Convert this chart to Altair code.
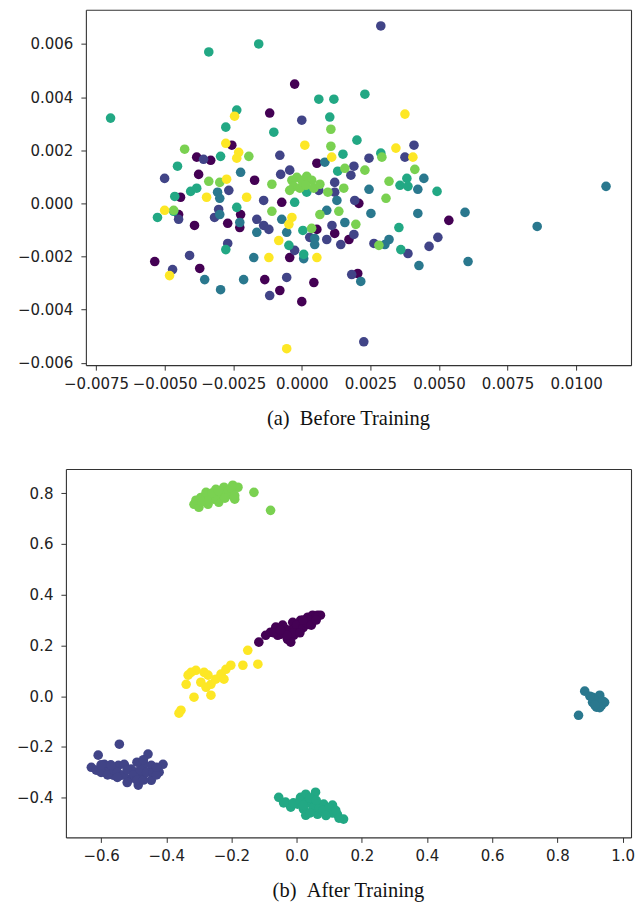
import altair as alt
import pandas as pd

VIRIDIS6 = ["#440154", "#414487", "#2a788e", "#22a884", "#7ad151", "#fde725"]
CLASSES = ["c0", "c1", "c2", "c3", "c4", "c5"]

# ---------------- (a) Before Training ----------------
before_x_c0 = [-0.00026, -0.00117, -0.00255, -0.00383, -0.00332, -0.00376, -0.00172, 0.00055, -0.00442, -0.00449,
               -0.00391, -0.0027, -0.00223, -0.00226, -0.00073, 0.00208, 0.0012, 0.00172, 0.00055, -0.00044,
               -0.00536, -0.00372, -0.00135, -0.0008, 0.0, 0.00044, 0.00204, 0.00536]
before_y_c0 = [0.00449, 0.0034, 0.00219, 0.00174, 0.00162, 0.00109, 0.00087, 0.00151, 0.00023, -0.00042,
               -0.00083, -0.00075, -0.00042, -0.00091, 0.00004, 0.0, -0.00113, -0.00136, -0.00098, -0.00204,
               -0.00219, -0.00245, -0.00287, -0.00328, -0.0037, -0.00298, -0.00264, -0.00064]

before_x_c1 = [0.00288, 0.0, -0.0008, -0.00358, -0.005, -0.00044, -0.00266, -0.00303, -0.00318, -0.00449,
               -0.00164, -0.00139, -0.00139, -0.0012, -0.00026, 0.00029, 0.00091, 0.00062, 0.0012, 0.0012,
               0.0019, 0.00179, 0.00245, 0.00376, 0.00409, 0.0011, 0.0019, 0.00142, 0.00263, 0.00387,
               0.00464, 0.00496, 0.00182, 0.00226, -0.00471, -0.00409, -0.0027, -0.00117, -0.00055, 0.00193,
               -0.00077]
before_y_c1 = [0.00668, 0.00313, 0.00181, 0.00166, 0.00094, 0.00125, 0.00049, -0.00023, -0.00053, -0.0006,
               -0.0006, 0.00011, -0.00083, -0.00098, -0.00177, -0.00128, -0.00136, 0.00049, 0.00079, 0.00042,
               0.0014, 0.00106, 0.0017, 0.00174, 0.00219, -0.00083, -0.00117, -0.00155, -0.00151, -0.00189,
               -0.00162, -0.00128, -0.00268, -0.00521, -0.00249, -0.00196, -0.00151, -0.00347, -0.00279, 0.00011,
               0.00109]

before_x_c2 = [0.01109, 0.00858, 0.00606, 0.00595, 0.00423, 0.00252, 0.00245, 0.00445, 0.00423, 0.00157,
               0.00091, 0.00084, 0.00128, 0.00047, 0.00047, 0.00007, 0.00215, 0.00427, 0.00318, 0.00303,
               -0.00307, -0.00299, -0.00299, -0.00226, -0.00164, -0.00055, -0.00073, -0.00223, -0.00175, -0.00212,
               -0.00296, -0.00354]
before_y_c2 = [0.00064, -0.00087, -0.00219, -0.00034, -0.00038, -0.00038, 0.00053, 0.00094, 0.00053, -0.00072,
               -0.00026, 0.00155, 0.00011, -0.00155, -0.00132, -0.00208, -0.00294, -0.00234, -0.00136, -0.00155,
               0.00042, 0.00019, -0.00042, -0.00072, -0.00109, -0.00109, -0.0006, 0.00117, -0.00204, -0.00287,
               -0.00325, -0.00287]

before_x_c3 = [-0.00697, -0.00339, -0.00157, 0.00062, 0.00117, 0.0023, -0.00237, -0.00277, -0.00102, 0.00102,
               0.00201, 0.0015, 0.00288, 0.00131, 0.00383, 0.00358, 0.00387, 0.00493, -0.00296, -0.00453,
               -0.00405, -0.00383, -0.00463, -0.00526, -0.00467, -0.00237, -0.00277, -0.00047, 0.00007, 0.00004,
               -0.00026, 0.00354, 0.00361, 0.00018]
before_y_c3 = [0.00321, 0.0057, 0.006, 0.00392, 0.00392, 0.00411, 0.00351, 0.00287, 0.00268, 0.00325,
               0.00238, 0.00185, 0.00189, 0.00121, 0.00094, 0.00068, 0.00064, 0.00045, 0.00177, 0.0014,
               0.00045, 0.00057, 0.00026, -0.00053, -0.0003, -0.00015, -0.00174, -0.00158, -0.00192, -0.00102,
               0.00004, -0.00091, -0.00174, 0.00042]

before_x_c4 = [0.00106, 0.00106, 0.00412, 0.00292, 0.0023, 0.00157, 0.00318, 0.00307, -0.00427, -0.00193,
               -0.00339, -0.00299, -0.00109, -0.00467, -0.00109, 0.00036, 0.00066, 0.00135, 0.00153, 0.00197,
               0.00281, -0.00036, -0.00018, 0.0, 0.00018, 0.00036, -0.00029, -0.00007, 0.00015, 0.00044,
               -0.00044, 0.00066, 0.00095]
before_y_c4 = [0.00279, 0.00215, 0.00128, 0.00174, 0.00125, 0.00132, 0.00083, 0.00019, 0.00204, 0.00177,
               0.00083, 0.00079, 0.00072, -0.00026, -0.0003, -0.00094, -0.00042, -0.0003, 0.00057, -0.00079,
               -0.00158, 0.00087, 0.00098, 0.00087, 0.00102, 0.00087, 0.00064, 0.00057, 0.00068, 0.00057,
               0.00049, 0.00072, 0.00042]

before_x_c5 = [-0.00245, 0.00011, 0.00376, 0.00343, 0.00405, 0.00109, -0.00277, -0.0023, -0.00237, -0.00274,
               -0.00347, -0.00201, -0.005, -0.00482, -0.00036, -0.00047, -0.0012, 0.00055, -0.00055, -0.00084]
before_y_c5 = [0.00328, 0.00219, 0.00336, 0.00208, 0.00174, 0.00174, 0.00226, 0.00192, 0.0017, 0.00091,
               0.00023, 0.00023, -0.00026, -0.00272, -0.00053, -0.00079, -0.00204, -0.00204, -0.00547, -0.0014]

before_x_ticks = [-0.0075, -0.005, -0.0025, 0.0, 0.0025, 0.005, 0.0075, 0.01]
before_y_ticks = [-0.006, -0.004, -0.002, 0.0, 0.002, 0.004, 0.006]
before_x_domain = [-0.00787, 0.01200]
before_y_domain = [-0.00609, 0.00729]

# ---------------- (b) After Training ----------------
after_x_c0 = [-0.116, -0.095, -0.064, -0.049, -0.028, -0.034, -0.012, 0.003, 0.012, 0.034,
              0.049, 0.064, 0.073, -0.009, 0.021, -0.058, -0.018, 0.037, 0.052, -0.043, -0.080,
              -0.070, -0.040, -0.020, 0.000, 0.020, 0.030, 0.040, 0.060, 0.045, -0.010,
              -0.030, 0.010, 0.020, 0.060, -0.050]
after_y_c0 = [0.213, 0.240, 0.272, 0.244, 0.224, 0.264, 0.291, 0.264, 0.299, 0.311,
              0.319, 0.319, 0.319, 0.240, 0.280, 0.240, 0.213, 0.283, 0.299, 0.280, 0.252,
              0.250, 0.250, 0.260, 0.280, 0.270, 0.290, 0.300, 0.310, 0.280, 0.250,
              0.240, 0.250, 0.300, 0.300, 0.260]

after_x_c1 = [-0.544, -0.609, -0.630, -0.615, -0.590, -0.569, -0.547, -0.529, -0.508, -0.538,
              -0.514, -0.486, -0.477, -0.456, -0.446, -0.410, -0.422, -0.446, -0.563, -0.590,
              -0.498, -0.468,
              -0.600, -0.580, -0.560, -0.550, -0.530, -0.520, -0.500, -0.490, -0.480, -0.470,
              -0.460, -0.440, -0.430, -0.520, -0.550, -0.570, -0.600, -0.490, -0.470, -0.430]
after_y_c1 = [-0.189, -0.232, -0.280, -0.291, -0.268, -0.287, -0.272, -0.268, -0.287, -0.311,
              -0.327, -0.350, -0.311, -0.228, -0.272, -0.268, -0.299, -0.331, -0.311, -0.299,
              -0.299, -0.268,
              -0.300, -0.310, -0.290, -0.300, -0.310, -0.290, -0.310, -0.330, -0.290, -0.330,
              -0.300, -0.300, -0.310, -0.340, -0.320, -0.270, -0.270, -0.260, -0.250, -0.280]

after_x_c2 = [0.884, 0.865, 0.908, 0.930, 0.945, 0.920, 0.908, 0.936,
              0.915, 0.925, 0.940, 0.930, 0.900, 0.915]
after_y_c2 = [0.020, -0.075, -0.004, 0.004, -0.024, -0.043, -0.024, -0.035,
              -0.015, -0.030, -0.020, -0.045, 0.000, -0.035]

after_x_c3 = [-0.055, -0.034, -0.018, 0.012, 0.028, 0.058, 0.043, 0.021, 0.064, 0.083,
              0.110, 0.095, 0.125, 0.144, 0.028, 0.064, 0.003,
              -0.040, -0.010, 0.010, 0.030, 0.040, 0.050, 0.070, 0.080, 0.100, 0.110,
              0.120, 0.130, 0.060, 0.040, 0.090, 0.020]
after_y_c3 = [-0.398, -0.417, -0.437, -0.398, -0.386, -0.378, -0.417, -0.445, -0.429, -0.425,
              -0.429, -0.457, -0.465, -0.484, -0.469, -0.465, -0.425,
              -0.420, -0.420, -0.410, -0.420, -0.400, -0.440, -0.440, -0.450, -0.440, -0.460,
              -0.450, -0.480, -0.410, -0.460, -0.470, -0.430]

after_x_c4 = [-0.315, -0.300, -0.294, -0.284, -0.272, -0.263, -0.254, -0.248, -0.239, -0.223,
              -0.217, -0.208, -0.196, -0.190, -0.180, -0.131, -0.080, -0.278, -0.232, -0.309,
              -0.290, -0.270, -0.250, -0.230, -0.210, -0.260, -0.240, -0.220, -0.200, -0.190]
after_y_c4 = [0.756, 0.744, 0.783, 0.772, 0.756, 0.795, 0.776, 0.815, 0.764, 0.823,
              0.803, 0.795, 0.831, 0.776, 0.823, 0.803, 0.732, 0.803, 0.795, 0.772,
              0.765, 0.770, 0.790, 0.800, 0.810, 0.800, 0.810, 0.780, 0.820, 0.790]

after_x_c5 = [-0.355, -0.361, -0.315, -0.339, -0.333, -0.309, -0.284, -0.294, -0.263, -0.263,
              -0.248, -0.232, -0.217, -0.202, -0.223, -0.165, -0.150, -0.119, -0.278, -0.272, -0.324]
after_y_c5 = [-0.055, -0.067, -0.004, 0.047, 0.083, 0.102, 0.094, 0.055, 0.047, 0.004,
              0.067, 0.087, 0.106, 0.122, 0.067, 0.122, 0.181, 0.126, 0.035, 0.083, 0.094]

after_x_ticks = [-0.6, -0.4, -0.2, 0.0, 0.2, 0.4, 0.6, 0.8, 1.0]
after_y_ticks = [-0.4, -0.2, 0.0, 0.2, 0.4, 0.6, 0.8]
after_x_domain = [-0.708, 1.026]
after_y_domain = [-0.556, 0.895]

PANEL_W = 566   # shared column width; the upper panel's frame starts further right
TOP_INSET = 20  # how much further right the upper panel's frame begins


def build_frame(xs_list, ys_list):
    rows = []
    for cls, xs, ys in zip(CLASSES, xs_list, ys_list):
        for x, y in zip(xs, ys):
            rows.append({"x": x, "y": y, "cls": cls})
    return pd.DataFrame(rows)


before_df = build_frame(
    [before_x_c0, before_x_c1, before_x_c2, before_x_c3, before_x_c4, before_x_c5],
    [before_y_c0, before_y_c1, before_y_c2, before_y_c3, before_y_c4, before_y_c5],
)
after_df = build_frame(
    [after_x_c0, after_x_c1, after_x_c2, after_x_c3, after_x_c4, after_x_c5],
    [after_y_c0, after_y_c1, after_y_c2, after_y_c3, after_y_c4, after_y_c5],
)


def scatter(df, xdom, ydom, xticks, yticks, xfmt, yfmt, h, inset, caption):
    base = alt.Chart(df)
    pts = base.mark_circle(size=92, opacity=1).encode(
        x=alt.X("x:Q", scale=alt.Scale(domain=xdom, nice=False, zero=False, range=[inset, PANEL_W]),
                axis=alt.Axis(values=xticks, format=xfmt, title=None, labelPadding=6,
                              grid=False, domain=True)),
        y=alt.Y("y:Q", scale=alt.Scale(domain=ydom, nice=False, zero=False),
                axis=alt.Axis(values=yticks, format=yfmt, title=None, labelPadding=8,
                              grid=False, domain=True, offset=-inset)),
        color=alt.Color("cls:N", scale=alt.Scale(domain=CLASSES, range=VIRIDIS6), legend=None),
    )
    box = base.mark_point(opacity=0).encode(
        x=alt.X("x:Q", axis=alt.Axis(orient="top", labels=False, ticks=False, domain=True,
                                     grid=False, title=None)),
        y=alt.Y("y:Q", axis=alt.Axis(orient="right", labels=False, ticks=False, domain=True,
                                     grid=False, title=None)),
    )
    return alt.layer(pts, box).resolve_axis(x="independent", y="independent").properties(
        width=PANEL_W, height=h,
        title=alt.TitleParams(caption, orient="bottom", anchor="middle", font="Liberation Serif",
                              fontSize=20.5, fontWeight="normal", color="#111111", offset=18),
    )


top = scatter(before_df, before_x_domain, before_y_domain, before_x_ticks, before_y_ticks,
              ".4f", ".3f", 356, TOP_INSET, "(a)\u2002Before Training")
bottom = scatter(after_df, after_x_domain, after_y_domain, after_x_ticks, after_y_ticks,
                 ".1f", ".1f", 369, 0, "(b)\u2002After Training")

chart = alt.concat(top, bottom, columns=1, spacing=38).properties(
    padding={"left": 8, "top": 0, "right": 0, "bottom": 0},
    background="white",
).configure_view(
    stroke="transparent"
).configure_axis(
    grid=False, tickSize=5, tickColor="#333333", tickWidth=1,
    domainColor="#333333", domainWidth=1.1,
    labelFont="DejaVu Sans", labelFontSize=15, labelColor="#222222",
    labelOverlap=False, labelFlush=False
)

chart.save("out.html", embed_options={"renderer": "svg", "actions": False})
